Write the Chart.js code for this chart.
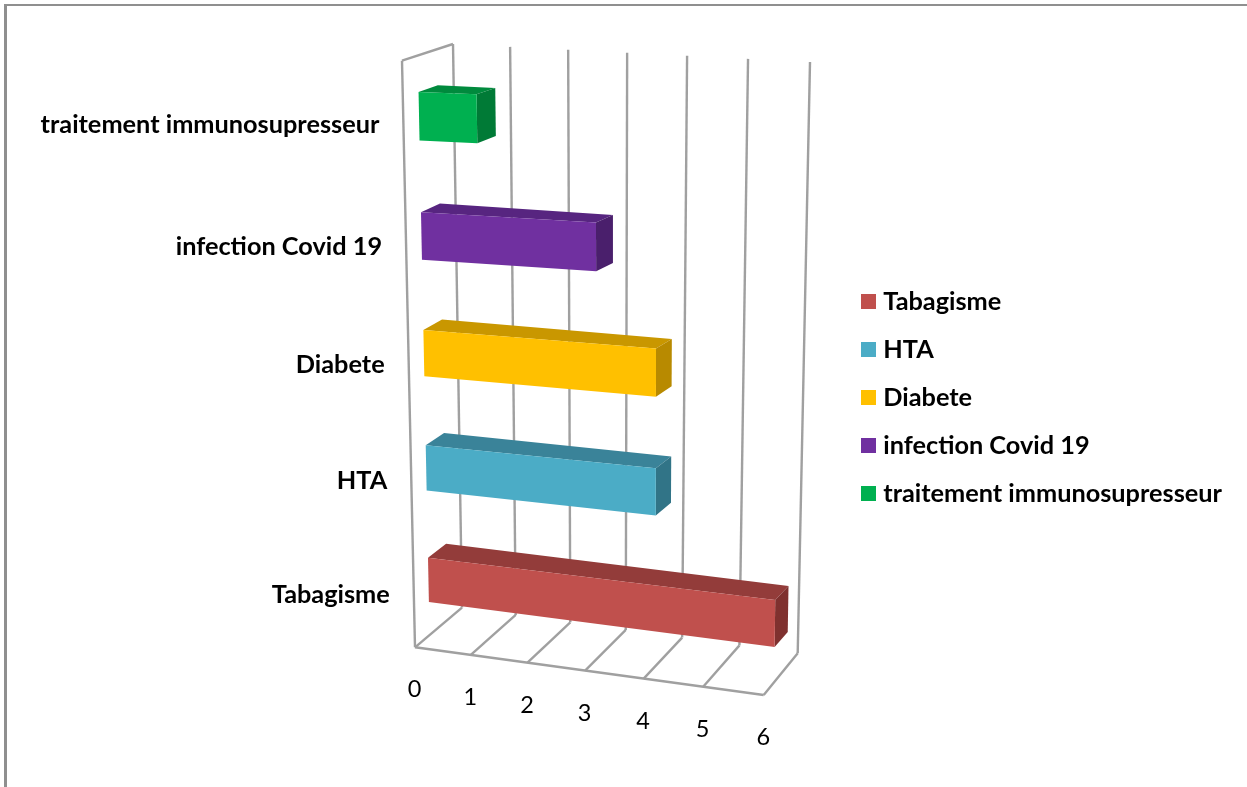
<!DOCTYPE html>
<html>
<head>
<meta charset="utf-8">
<title>Facteurs de risque</title>
<script src="https://cdn.jsdelivr.net/npm/chart.js@4"></script>
<style>
    html, body { margin: 0; padding: 0; background: #fff; overflow: hidden; }
    canvas { display: block; }
</style>
</head>
<body>
<canvas id="risk-chart" width="1247" height="787"></canvas>
<script>
// Categories and values
const categories = ['Tabagisme', 'HTA', 'Diabete', 'infection Covid 19', 'traitement immunosupresseur'];
const counts = [6, 4, 4, 3, 1];
const valueTicks = [0, 1, 2, 3, 4, 5, 6];

// Face colours for each bar
const frontColors = ['#c0504d', '#4bacc6', '#ffc000', '#7030a0', '#00b050'];
const topColors = ['#933c3a', '#3a8399', '#c99700', '#572580', '#008a3d'];
const sideColors = ['#7f312f', '#317487', '#b88a00', '#4a1f6c', '#007a36'];

const gridColor = '#a0a0a0';
const frameColor = '#8f8f8f';
const labelFont = 'bold 25.3px Lato';

// Corners of the 3D box, named [value][category][depth], 0 = start, 1 = end
const box = {
    p000: [402, 60.7], p001: [453, 44],
    p010: [415, 647.3], p011: [462, 607.6],
    p100: [769, 69], p101: [810, 62],
    p110: [763.7, 695], p111: [797.7, 653.3]
};
const barFrontDepth = 0.31;
const barBackDepth = 0.69;
const perspectiveX = 0.05;
const perspectiveY = 0.055;

function lerp(a, b, t) {
    return [a[0] + (b[0] - a[0]) * t, a[1] + (b[1] - a[1]) * t];
}

// u, v, d in 0..1 -> canvas position
function project(u, v, d) {
    const w = u / (1 + perspectiveX * (1 - u));
    const h = v + perspectiveY * v * (1 - v);
    const front = lerp(lerp(box.p000, box.p100, w), lerp(box.p010, box.p110, w), h);
    const back = lerp(lerp(box.p001, box.p101, w), lerp(box.p011, box.p111, w), h);
    return lerp(front, back, d);
}

function line(ctx, a, b) {
    ctx.beginPath();
    ctx.moveTo(a[0], a[1]);
    ctx.lineTo(b[0], b[1]);
    ctx.stroke();
}

function poly(ctx, points, color) {
    ctx.fillStyle = color;
    ctx.beginPath();
    points.forEach(function(p, i) {
        if (i === 0) ctx.moveTo(p[0], p[1]); else ctx.lineTo(p[0], p[1]);
    });
    ctx.closePath();
    ctx.fill();
}

function swatch(color) {
    const c = document.createElement('canvas');
    c.width = 15;
    c.height = 15;
    const g = c.getContext('2d');
    g.fillStyle = color;
    g.fillRect(0, 0, 15, 15);
    return c;
}

const box3d = {
    id: 'box3d',
    // outer frame and the walls with their labels
    beforeDatasetsDraw(chart) {
        const ctx = chart.ctx;
        const area = chart.chartArea;
        const xScale = chart.scales.x;
        const yScale = chart.scales.y;

        ctx.save();
        ctx.fillStyle = frameColor;
        ctx.fillRect(4, 4, chart.width - 4, 2);
        ctx.fillRect(4, 4, 3, chart.height - 4);

        ctx.strokeStyle = gridColor;
        ctx.lineWidth = 2.4;
        ctx.lineJoin = 'miter';
        line(ctx, project(0, 0, 0), project(0, 0, 1));
        line(ctx, project(0, 0, 0), project(0, 1, 0));
        line(ctx, project(0, 1, 0), project(1, 1, 0));

        ctx.font = '23.5px Lato';
        ctx.fillStyle = '#000';
        ctx.textAlign = 'center';
        ctx.textBaseline = 'middle';
        xScale.ticks.forEach(function(tick) {
            const u = (xScale.getPixelForValue(tick.value) - area.left) / area.width;
            line(ctx, project(u, 0, 1), project(u, 1, 1));
            line(ctx, project(u, 1, 1), project(u, 1, 0));
            const p = project(u, 1, 0);
            ctx.fillText(tick.label, p[0] - 0.5, p[1] + 42.5);
        });

        ctx.font = labelFont;
        ctx.textAlign = 'right';
        yScale.getLabels().forEach(function(label, i) {
            const v = (yScale.getPixelForValue(i) - area.top) / area.height;
            const p = project(0, v, 0);
            ctx.fillText(label, p[0] - 24, p[1] + 3);
        });
        ctx.restore();
    },
    // bars are drawn here as boxes instead of flat rectangles
    beforeDatasetDraw(chart, args) {
        const ctx = chart.ctx;
        const area = chart.chartArea;
        args.meta.data.forEach(function(bar, i) {
            const u0 = (bar.base - area.left) / area.width;
            const u1 = (bar.x - area.left) / area.width;
            const v0 = (bar.y - bar.height / 2 - area.top) / area.height;
            const v1 = (bar.y + bar.height / 2 - area.top) / area.height;
            const d0 = barFrontDepth;
            const d1 = barBackDepth;
            poly(ctx, [project(u0, v0, d0), project(u1, v0, d0), project(u1, v0, d1), project(u0, v0, d1)], topColors[i]);
            poly(ctx, [project(u1, v0, d0), project(u1, v1, d0), project(u1, v1, d1), project(u1, v0, d1)], sideColors[i]);
            poly(ctx, [project(u0, v0, d0), project(u1, v0, d0), project(u1, v1, d0), project(u0, v1, d0)], frontColors[i]);
        });
        return false;
    }
};

new Chart(document.getElementById('risk-chart').getContext('2d'), {
    type: 'bar',
    data: {
        labels: categories,
        datasets: [{
            data: counts,
            backgroundColor: frontColors,
            categoryPercentage: 0.4,
            barPercentage: 1
        }]
    },
    options: {
        indexAxis: 'y',
        responsive: false,
        animation: false,
        layout: { padding: { top: 8, right: 15, bottom: 0, left: 0 } },
        plugins: {
            tooltip: { enabled: false },
            legend: {
                position: 'right',
                maxWidth: 600,
                labels: {
                    color: '#000',
                    font: { family: 'Lato', weight: 'bold', size: 25.3 },
                    usePointStyle: true,
                    pointStyleWidth: 3.7,
                    boxHeight: 15,
                    padding: 22.7,
                    generateLabels: function() {
                        return categories.map(function(name, i) {
                            return { text: name, pointStyle: swatch(frontColors[i]), fillStyle: frontColors[i], lineWidth: 0, index: i };
                        });
                    }
                }
            }
        },
        scales: {
            x: {
                min: valueTicks[0],
                max: valueTicks[valueTicks.length - 1],
                ticks: { display: false, stepSize: 1 },
                grid: { display: false },
                border: { display: false }
            },
            y: {
                reverse: true,
                ticks: { display: false },
                grid: { display: false },
                border: { display: false }
            }
        }
    },
    plugins: [box3d]
});
</script>
</body>
</html>
